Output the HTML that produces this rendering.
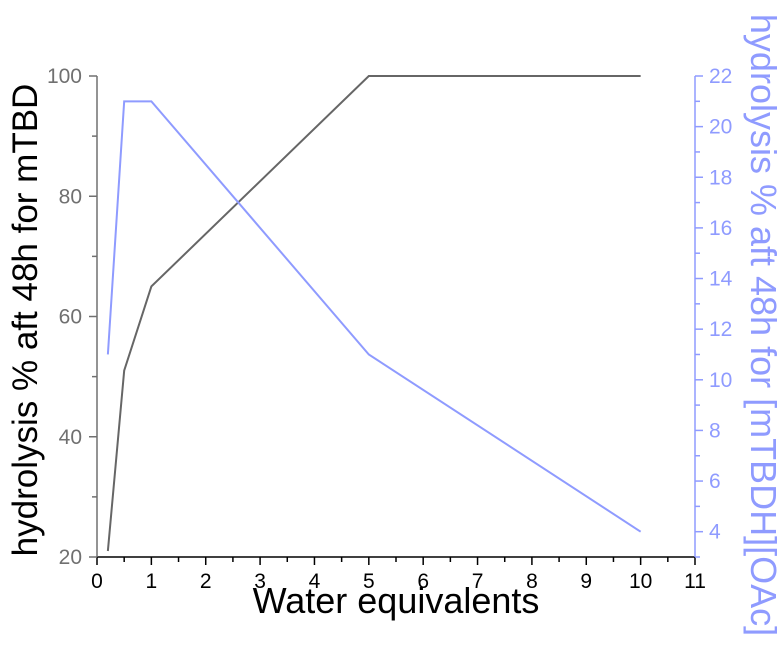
<!DOCTYPE html>
<html><head><meta charset="utf-8"><style>
html,body{margin:0;padding:0;background:#fff;}
svg{display:block;font-family:"Liberation Sans",Arial,sans-serif;}
</style></head><body>
<svg id="chart" width="779" height="650" viewBox="0 0 779 650" xmlns="http://www.w3.org/2000/svg">
<g id="axes"></g>
<g id="series"></g>
<text x="396" y="613" font-size="36" text-anchor="middle" fill="#000">Water equivalents</text>
<text transform="translate(37,320) rotate(-90)" font-size="35" text-anchor="middle" fill="#000">hydrolysis % aft 48h for mTBD</text>
<text transform="translate(751,325) rotate(90)" font-size="36" text-anchor="middle" fill="#8f9bff">hydrolysis % aft 48h for [mTBDH][OAc]</text>
</svg>
<script>
const xValues = [0.2, 0.5, 1, 5, 10];
const mtbdValues = [21, 51, 65, 100, 100];
const oacValues = [11, 21, 21, 11, 4];
const xTicks = [0,1,2,3,4,5,6,7,8,9,10,11];
const leftTicks = [20,40,60,80,100];
const rightTicks = [4,6,8,10,12,14,16,18,20,22];

const X0=97, X1=695, Yt=76, Yb=557;
const xMin=0, xMax=11, lMin=20, lMax=100, rMin=3, rMax=22;
const sx = v => X0 + (v-xMin)/(xMax-xMin)*(X1-X0);
const sl = v => Yb - (v-lMin)/(lMax-lMin)*(Yb-Yt);
const sr = v => Yb - (v-rMin)/(rMax-rMin)*(Yb-Yt);
const NS="http://www.w3.org/2000/svg";
const axes=document.getElementById('axes');
const series=document.getElementById('series');
function mk(tag, attrs, parent){const e=document.createElementNS(NS,tag);for(const k in attrs)e.setAttribute(k,attrs[k]);parent.appendChild(e);return e;}
const GRAY="#707070", BLUE="#8f9bff";

let el=mk('line',{x1:X0,y1:Yb,x2:X1,y2:Yb,stroke:'#000','stroke-width':1.5},axes);


xTicks.forEach(t=>{
  let l=mk('line',{x1:sx(t),y1:Yb,x2:sx(t),y2:Yb+8,stroke:'#000','stroke-width':1.5},axes);
  
  
  if(t<xMax){let m=mk('line',{x1:sx(t+0.5),y1:Yb,x2:sx(t+0.5),y2:Yb+5,stroke:'#000','stroke-width':1.5},axes);
  
  }
  let tx=mk('text',{x:sx(t),y:Yb+31,'font-size':21,'text-anchor':'middle',fill:'#000'},axes);
  tx.textContent=t;
  
  
});
el=mk('line',{x1:X0,y1:Yt,x2:X0,y2:Yb,stroke:GRAY,'stroke-width':1.5},axes);


leftTicks.forEach(t=>{
  let l=mk('line',{x1:X0-8,y1:sl(t),x2:X0,y2:sl(t),stroke:GRAY,'stroke-width':1.5},axes);
  
  
  if(t<lMax){let m=mk('line',{x1:X0-5,y1:sl(t+10),x2:X0,y2:sl(t+10),stroke:GRAY,'stroke-width':1.5},axes);
  
  }
  let tx=mk('text',{x:X0-15,y:sl(t)+7,'font-size':21,'text-anchor':'end',fill:GRAY},axes);
  tx.textContent=t;
  
  
});
el=mk('line',{x1:X1,y1:Yt,x2:X1,y2:Yb,stroke:BLUE,'stroke-width':1.5},axes);


rightTicks.forEach(t=>{
  let l=mk('line',{x1:X1,y1:sr(t),x2:X1+8,y2:sr(t),stroke:BLUE,'stroke-width':1.5},axes);
  
  
  let m=mk('line',{x1:X1,y1:sr(t-1),x2:X1+5,y2:sr(t-1),stroke:BLUE,'stroke-width':1.5},axes);
  
  
  let tx=mk('text',{x:X1+14,y:sr(t)+7,'font-size':21,'text-anchor':'start',fill:BLUE},axes);
  tx.textContent=t;
  
  
});
let p1=mk('polyline',{points:xValues.map((x,i)=>sx(x)+','+sl(mtbdValues[i])).join(' '),fill:'none',stroke:'#666','stroke-width':2},series);


let p2=mk('polyline',{points:xValues.map((x,i)=>sx(x)+','+sr(oacValues[i])).join(' '),fill:'none',stroke:BLUE,'stroke-width':2},series);


</script>
</body></html>
